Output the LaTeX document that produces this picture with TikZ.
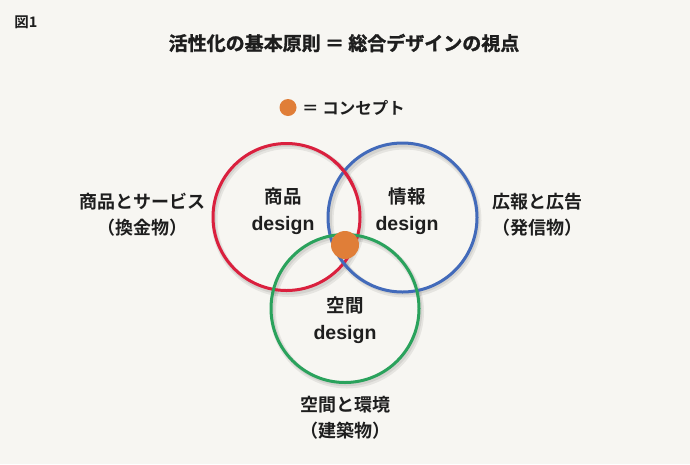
\documentclass[tikz,border=0pt]{standalone}
\usepackage{fontspec}
\setmainfont{Noto Sans CJK JP}[BoldFont={Noto Sans CJK JP Bold}]
\newfontfamily\jpbold{Noto Sans CJK JP Bold}
\newfontfamily\jpheavy{Noto Sans CJK JP Bold}[FakeBold=1.5]
\newfontfamily\latbold{Liberation Sans}[BoldFont={Liberation Sans Bold}]
\definecolor{bgc}{RGB}{247,246,242}
\definecolor{ringred}{RGB}{218,32,62}
\definecolor{ringblue}{RGB}{66,106,186}
\definecolor{ringgreen}{RGB}{42,162,92}
\definecolor{dotorange}{RGB}{224,126,56}
\definecolor{txt}{RGB}{30,30,30}
\newcommand{\dsg}{{\latbold\bfseries\fontsize{19.5}{27}\selectfont design}}
\tikzset{
  ring/.style={line width=3pt},
  ringshadow/.style={draw=black, line width=6pt, draw opacity=0.07},
  ringshadowb/.style={draw=black, line width=3.5pt, draw opacity=0.08},
  lbl/.style={font=\jpbold\fontsize{18}{26}\selectfont, text=txt, align=center, inner sep=0pt},
  inlbl/.style={font=\jpbold\fontsize{18.5}{27}\selectfont, text=txt, align=center, inner sep=0pt},
  dot/.style={circle, fill=dotorange, inner sep=0pt},
}
\begin{document}
\begin{tikzpicture}[x=1pt,y=-1pt]
\fill[bgc] (0,0) rectangle (690,464);
\useasboundingbox (0,0) rectangle (690,464);
% centres
\coordinate (R) at (286.5,217);
\coordinate (B) at (402.5,217.5);
\coordinate (G) at (345,308.5);
% shadows
\foreach \c in {R,B,G}{
  \draw[ringshadow] ([shift={(2,3)}]\c) circle[radius=74];
  \draw[ringshadowb] ([shift={(1.5,2)}]\c) circle[radius=74];
}
% rings
\draw[ring, ringred] (R) circle[radius=73.5];
\draw[ring, ringblue] (B) circle[radius=74.5];
\draw[ring, ringred] ([shift={(-50:73.5)}]R) arc[start angle=-50, end angle=-25, radius=73.5];
\draw[ring, ringgreen] (G) circle[radius=74];
% concept dot
\node[dot, minimum size=28pt] (concept) at (345,245) {};
% texts
\node[font=\jpbold\fontsize{14.5}{16}\selectfont, text=txt, inner sep=0pt] (fig) at (26,22) {図1};
\node[font=\jpheavy\fontsize{19}{22}\selectfont, text=txt, inner sep=0pt] (title) at (344,43) {活性化の基本原則 ＝ 総合デザインの視点};
\node[dot, minimum size=17pt] (legdot) at (288,107.5) {};
\node[font=\jpbold\fontsize{16.5}{20}\selectfont, text=txt, inner sep=0pt, anchor=west] (legtxt) at (302,108) {＝ コンセプト};
\node[inlbl] (shohin) at (283,211.5) {商品\\\dsg};
\node[inlbl] (joho) at (407,211.5) {情報\\\dsg};
\node[inlbl] (kukan) at (345,320.5) {空間\\\dsg};
\node[lbl] (left) at (142,215) {商品とサービス\\（換金物）};
\node[lbl] (right) at (537,215) {広報と広告\\（発信物）};
\node[lbl] (bottom) at (345,417.5) {空間と環境\\（建築物）};
\end{tikzpicture}
\end{document}
